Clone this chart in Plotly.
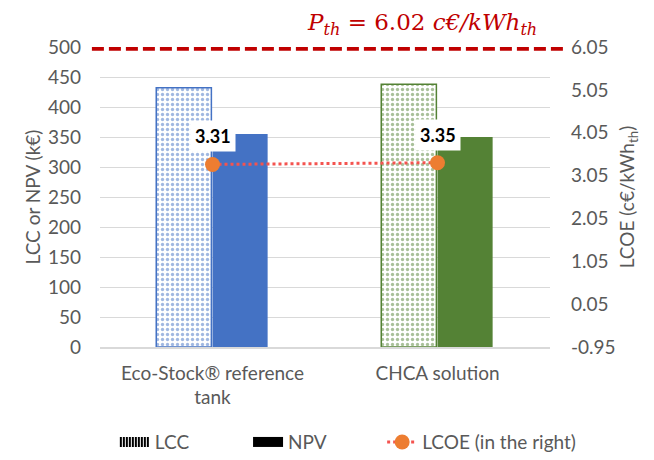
import plotly.graph_objects as go

categories = ["Eco-Stock® reference<br>tank", "CHCA solution"]
lcc = [432, 438]
npv = [355, 350]
lcoe = [3.31, 3.35]
p_th = 6.02
bar_colors = ["#4472C4", "#548235"]
right_ticks = [-0.95, 0.05, 1.05, 2.05, 3.05, 4.05, 5.05, 6.05]

font_family = "Lato, 'Noto Sans', sans-serif"
gray = "#595959"
fs = 19

fig = go.Figure()

# LCC bars (patterned)
fig.add_trace(go.Bar(
    x=categories, y=lcc, name="LCC", showlegend=False,
    offset=-0.25, width=0.245,
    marker=dict(color="white", line=dict(color=bar_colors, width=1.5),
                pattern=dict(shape=".", fgcolor=bar_colors, bgcolor="white",
                             size=5, solidity=0.35, fillmode="overlay")),
))
# NPV bars (solid)
fig.add_trace(go.Bar(
    x=categories, y=npv, name="NPV", showlegend=False,
    offset=0, width=0.245,
    marker=dict(color=bar_colors, line=dict(width=0)),
))
# LCOE line on right axis
fig.add_trace(go.Scatter(
    x=categories, y=lcoe, yaxis="y2", mode="lines+markers",
    name="LCOE (in the right)", showlegend=False,
    line=dict(color="#F4534F", width=3, dash="dot"),
    marker=dict(color="#ED7D31", size=15),
))

# legend entries (Excel-like black swatches)
fig.add_trace(go.Scatter(
    x=[None], y=[None], name="LCC", mode="lines", legend="legend",
    line=dict(color="black", width=10, dash="2px,1px"),
))
fig.add_trace(go.Scatter(
    x=[None], y=[None], name="NPV", mode="lines", legend="legend2",
    line=dict(color="black", width=10),
))
fig.add_trace(go.Scatter(
    x=[None], y=[None], yaxis="y2", mode="lines+markers", name="LCOE (in the right)",
    legend="legend3",
    line=dict(color="#F4534F", width=3, dash="dot"),
    marker=dict(color="#ED7D31", size=15),
))

for cat, v in zip(categories, lcoe):
    fig.add_annotation(
        x=cat, y=v, xref="x", yref="y2", text=f"<b>{v:.2f}</b>",
        showarrow=False, yshift=28, bgcolor="white",
        font=dict(family=font_family, size=18, color="black"),
        borderpad=4,
    )

# threshold dashed line
fig.add_shape(type="line", xref="paper", yref="y2",
              x0=-0.018, x1=1.033, y0=p_th, y1=p_th,
              line=dict(color="#C00000", width=5, dash="12px,5px"))
fig.add_annotation(
    xref="paper", yref="paper", x=0.715, xanchor="center", y=1.0, yshift=6,
    yanchor="bottom", showarrow=False,
    text=f"<i>P</i><sub><i>th</i></sub> = {p_th:.2f} <i>c€/kWh</i><sub><i>th</i></sub>",
    font=dict(family="'DejaVu Serif', 'Liberation Serif', serif", size=23, color="#C00000"),
)

legend_common = dict(orientation="h", xanchor="left", y=-0.317, yanchor="middle",
                     font=dict(size=fs, color=gray), bgcolor="rgba(0,0,0,0)")

fig.update_layout(
    width=654, height=460,
    margin=dict(l=92, r=112, t=39, b=121, autoexpand=False),
    paper_bgcolor="white", plot_bgcolor="white",
    barmode="overlay",
    font=dict(family=font_family, size=fs, color=gray),
    xaxis=dict(showline=True, linecolor="#D9D9D9", linewidth=1.5, automargin=False,
               tickfont=dict(size=fs, color=gray), ticks="", ticklabelstandoff=8),
    yaxis=dict(range=[0, 500], dtick=50, showgrid=True, gridcolor="#D9D9D9",
               gridwidth=1.2, zeroline=False, ticks="", ticklabelstandoff=18,
               automargin=False,
               title=dict(text="LCC or NPV (k€)", font=dict(size=fs, color=gray), standoff=2),
               tickfont=dict(size=fs, color=gray)),
    yaxis2=dict(range=[-0.95, 6.05], tickvals=right_ticks,
                ticktext=[f"{v:.2f}" for v in right_ticks],
                overlaying="y", side="right",
                showgrid=False, zeroline=False, ticklabelstandoff=20,
                automargin=False,
                title=dict(text="LCOE (c€/kWh<sub>th</sub>)", font=dict(size=fs, color=gray), standoff=6),
                tickfont=dict(size=fs, color=gray)),
    legend=dict(x=0.033, **legend_common),
    legend2=dict(x=0.329, **legend_common),
    legend3=dict(x=0.627, **legend_common),
)

fig.write_html("out.html")
